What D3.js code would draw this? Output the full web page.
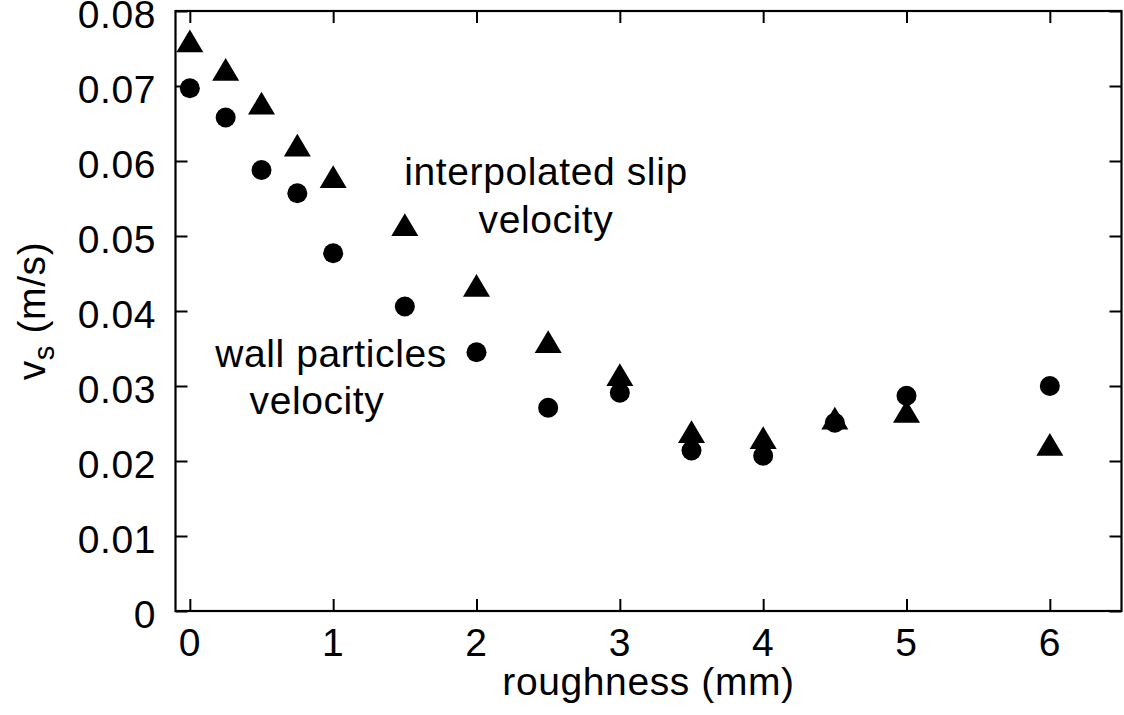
<!DOCTYPE html>
<html>
<head>
<meta charset="utf-8">
<script src="https://cdn.jsdelivr.net/npm/d3@7"></script>
<style>
  html, body { margin: 0; padding: 0; background: #fff; }
  svg { display: block; }
  text { font-family: "Liberation Sans", Arial, Helvetica, sans-serif; fill: #000; letter-spacing: 0.6px; }
</style>
</head>
<body>
<svg id="chart" width="1124" height="715"></svg>
<script>
// ---- data ----
const roughness = [0, 0.25, 0.5, 0.75, 1, 1.5, 2, 2.5, 3, 3.5, 4, 4.5, 5, 6];
const wallParticlesVelocity = [0.0697, 0.0658, 0.0588, 0.0557, 0.0477, 0.0406, 0.0345, 0.0271, 0.0291, 0.0214, 0.0207, 0.0251, 0.0287, 0.0300];
const interpolatedSlipVelocity = [0.0755, 0.0717, 0.0672, 0.0616, 0.0574, 0.0510, 0.0429, 0.0354, 0.0310, 0.0234, 0.0226, 0.0252, 0.0261, 0.0217];
const xTicks = [0, 1, 2, 3, 4, 5, 6];
const yTicks = [0, 0.01, 0.02, 0.03, 0.04, 0.05, 0.06, 0.07, 0.08];
const xDomain = [-0.1, 6.5];
const yDomain = [0, 0.08];
const labels = {
  x: "roughness (mm)",
  yMain: "v", ySub: "s", yUnit: " (m/s)",
  slip: ["interpolated slip", "velocity"],
  wall: ["wall particles", "velocity"]
};

// ---- layout ----
const svg = d3.select("#chart");
const L = 175.5, R = 1121.5, T = 11, B = 611;
const x = d3.scaleLinear().domain(xDomain).range([L, R]);
const y = d3.scaleLinear().domain(yDomain).range([B, T]);
const FS = 39;
const tickLen = 12;

// axes (ticks inward, mirrored)
const gx = svg.append("g").attr("transform", `translate(0,${B})`)
  .call(d3.axisTop(x).tickValues(xTicks).tickSize(tickLen).tickFormat(""));
const gxt = svg.append("g").attr("transform", `translate(0,${T})`)
  .call(d3.axisBottom(x).tickValues(xTicks).tickSize(tickLen).tickFormat(""));
const gy = svg.append("g").attr("transform", `translate(${L},0)`)
  .call(d3.axisRight(y).tickValues(yTicks).tickSize(tickLen).tickFormat(""));
const gyr = svg.append("g").attr("transform", `translate(${R},0)`)
  .call(d3.axisLeft(y).tickValues(yTicks).tickSize(tickLen).tickFormat(""));
[gx, gxt, gy, gyr].forEach(g => {
  g.select(".domain").remove();
  g.selectAll(".tick line").attr("stroke", "#000").attr("stroke-width", 2);
});

// frame
svg.append("rect").attr("x", L).attr("y", T).attr("width", R - L).attr("height", B - T)
  .attr("fill", "none").attr("stroke", "#000").attr("stroke-width", 2.2);

// tick labels
svg.append("g").selectAll("text").data(xTicks).join("text")
  .attr("x", d => x(d)).attr("y", 656)
  .attr("text-anchor", "middle").attr("font-size", FS)
  .text(d => d3.format("d")(d));
svg.append("g").selectAll("text").data(yTicks).join("text")
  .attr("x", 156).attr("y", d => y(d)).attr("dy", 16.5)
  .attr("text-anchor", "end").attr("font-size", FS)
  .text(d => d === 0 ? "0" : d3.format(".2f")(d));

// axis titles
svg.append("text").attr("x", (L + R) / 2).attr("y", 695)
  .attr("text-anchor", "middle").attr("font-size", FS).text(labels.x);
const yl = svg.append("text")
  .attr("transform", `translate(45,${(T + B) / 2}) rotate(-90)`)
  .attr("text-anchor", "middle").attr("font-size", FS);
yl.append("tspan").text(labels.yMain);
yl.append("tspan").attr("font-size", FS * 0.75).attr("dy", 9).text(labels.ySub);
yl.append("tspan").attr("dy", -9).text(labels.yUnit);

// points
const pts = roughness.map((r, i) => ({ r, w: wallParticlesVelocity[i], s: interpolatedSlipVelocity[i] }));
svg.append("g").selectAll("circle").data(pts).join("circle")
  .attr("cx", d => x(d.r)).attr("cy", d => y(d.w)).attr("r", 10).attr("fill", "#000");
const hw = 13.5, up = 15.2, dn = 7.6;
svg.append("g").selectAll("path").data(pts).join("path")
  .attr("d", d => {
    const cx = x(d.r), cy = y(d.s);
    return `M${cx},${cy - up}L${cx - hw},${cy + dn}L${cx + hw},${cy + dn}Z`;
  })
  .attr("fill", "#000");

// annotations
svg.append("g").selectAll("text").data(labels.slip).join("text")
  .attr("x", 546).attr("y", (d, i) => 185 + i * 47.5)
  .attr("text-anchor", "middle").attr("font-size", FS).text(d => d);
const wallX = [331, 317];
svg.append("g").selectAll("text").data(labels.wall).join("text")
  .attr("x", (d, i) => wallX[i]).attr("y", (d, i) => 366.5 + i * 47)
  .attr("text-anchor", "middle").attr("font-size", FS).text(d => d);
</script>
</body>
</html>
